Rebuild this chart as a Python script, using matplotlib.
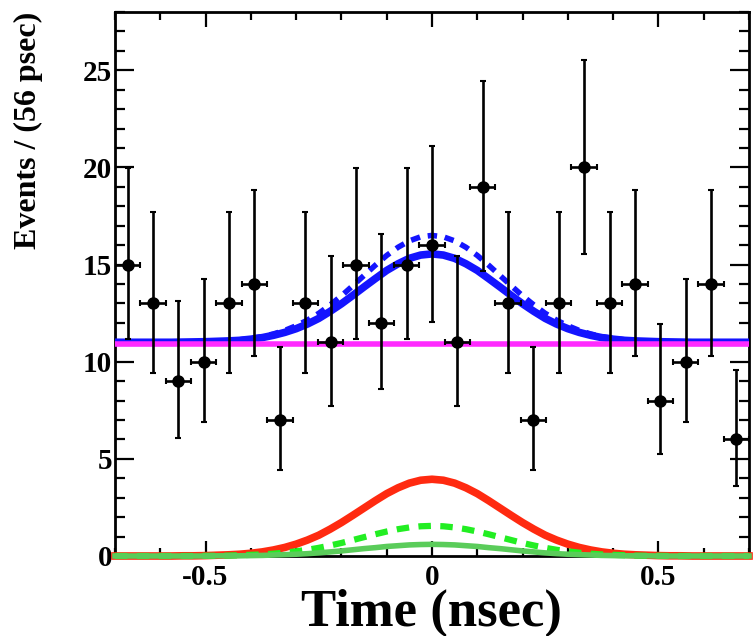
import matplotlib
matplotlib.use('Agg')
import matplotlib.pyplot as plt
from matplotlib.ticker import MultipleLocator, FixedLocator

plt.rcParams['font.family'] = ['Liberation Serif', 'DejaVu Serif']
plt.rcParams['axes.unicode_minus'] = False

# data points: bin centres (56 psec bins), counts and Poisson error band
t_bins = [-0.672, -0.616, -0.560, -0.504, -0.448, -0.392, -0.336, -0.280, -0.224,
          -0.168, -0.112, -0.056, 0.000, 0.056, 0.112, 0.168, 0.224, 0.280,
          0.336, 0.392, 0.448, 0.504, 0.560, 0.616, 0.672]
counts = [15, 13, 9, 10, 13, 14, 7, 13, 11, 15, 12, 15, 16, 11, 19, 13, 7, 13,
          20, 13, 14, 8, 10, 14, 6]
err_lo = [11.17, 9.44, 6.06, 6.89, 9.44, 10.30, 4.42, 9.44, 7.73, 11.17, 8.58, 11.17,
          12.04, 7.73, 14.68, 9.44, 4.42, 9.44, 15.57, 9.44, 10.30, 5.23, 6.89, 10.30, 3.62]
err_hi = [19.96, 17.70, 13.11, 14.27, 17.70, 18.83, 10.77, 17.70, 15.42, 19.96, 16.56, 19.96,
          21.08, 15.42, 24.44, 17.70, 10.77, 17.70, 25.54, 17.70, 18.83, 11.95, 14.27, 18.83, 9.58]
half_bin = 0.028

# fit curves, every 25 psec
t_curve = [-0.700, -0.675, -0.650, -0.625, -0.600, -0.575, -0.550, -0.525, -0.500, -0.475,
           -0.450, -0.425, -0.400, -0.375, -0.350, -0.325, -0.300, -0.275, -0.250, -0.225,
           -0.200, -0.175, -0.150, -0.125, -0.100, -0.075, -0.050, -0.025, 0.000, 0.025,
           0.050, 0.075, 0.100, 0.125, 0.150, 0.175, 0.200, 0.225, 0.250, 0.275,
           0.300, 0.325, 0.350, 0.375, 0.400, 0.425, 0.450, 0.475, 0.500, 0.525,
           0.550, 0.575, 0.600, 0.625, 0.650, 0.675, 0.700]
total_solid = [11.00, 11.00, 11.00, 11.00, 11.00, 11.00, 11.01, 11.02, 11.03, 11.05,
               11.07, 11.10, 11.16, 11.24, 11.36, 11.51, 11.70, 11.94, 12.23, 12.59,
               12.98, 13.41, 13.85, 14.28, 14.70, 15.04, 15.32, 15.49, 15.55, 15.49,
               15.32, 15.04, 14.70, 14.28, 13.85, 13.41, 12.98, 12.59, 12.23, 11.94,
               11.70, 11.51, 11.36, 11.24, 11.16, 11.10, 11.07, 11.05, 11.03, 11.02,
               11.01, 11.00, 11.00, 11.00, 11.00, 11.00, 11.00]
total_dashed = [11.00, 11.00, 11.00, 11.00, 11.00, 11.00, 11.01, 11.02, 11.03, 11.05,
                11.08, 11.13, 11.20, 11.29, 11.43, 11.61, 11.85, 12.14, 12.49, 12.92,
                13.39, 13.91, 14.44, 14.97, 15.47, 15.89, 16.22, 16.43, 16.50, 16.43,
                16.22, 15.89, 15.47, 14.97, 14.44, 13.91, 13.39, 12.92, 12.49, 12.14,
                11.85, 11.61, 11.43, 11.29, 11.20, 11.13, 11.08, 11.05, 11.03, 11.02,
                11.01, 11.00, 11.00, 11.00, 11.00, 11.00, 11.00]
signal = [0.00, 0.00, 0.00, 0.00, 0.00, 0.00, 0.01, 0.01, 0.02, 0.04,
          0.06, 0.09, 0.14, 0.21, 0.31, 0.44, 0.61, 0.82, 1.07, 1.38,
          1.72, 2.09, 2.47, 2.85, 3.21, 3.51, 3.75, 3.90, 3.95, 3.90,
          3.75, 3.51, 3.21, 2.85, 2.47, 2.09, 1.72, 1.38, 1.07, 0.82,
          0.61, 0.44, 0.31, 0.21, 0.14, 0.09, 0.06, 0.04, 0.02, 0.01,
          0.01, 0.00, 0.00, 0.00, 0.00, 0.00, 0.00]
peaking_dashed = [0.00, 0.00, 0.00, 0.00, 0.00, 0.00, 0.00, 0.00, 0.01, 0.01,
                  0.02, 0.04, 0.06, 0.08, 0.12, 0.17, 0.24, 0.32, 0.42, 0.54,
                  0.67, 0.82, 0.97, 1.12, 1.26, 1.38, 1.47, 1.53, 1.55, 1.53,
                  1.47, 1.38, 1.26, 1.12, 0.97, 0.82, 0.67, 0.54, 0.42, 0.32,
                  0.24, 0.17, 0.12, 0.08, 0.06, 0.04, 0.02, 0.01, 0.01, 0.00,
                  0.00, 0.00, 0.00, 0.00, 0.00, 0.00, 0.00]
peaking_solid = [0.00, 0.00, 0.00, 0.00, 0.00, 0.00, 0.00, 0.00, 0.00, 0.01,
                 0.01, 0.01, 0.02, 0.03, 0.05, 0.07, 0.09, 0.12, 0.16, 0.21,
                 0.26, 0.32, 0.38, 0.43, 0.49, 0.53, 0.57, 0.59, 0.60, 0.59,
                 0.57, 0.53, 0.49, 0.43, 0.38, 0.32, 0.26, 0.21, 0.16, 0.12,
                 0.09, 0.07, 0.05, 0.03, 0.02, 0.01, 0.01, 0.01, 0.00, 0.00,
                 0.00, 0.00, 0.00, 0.00, 0.00, 0.00, 0.00]
bkg_level = 10.93

fig = plt.figure(figsize=(7.53, 6.36), dpi=100)
ax = fig.add_axes([0.1527, 0.1258, 0.842, 0.8553])

ax.plot(t_curve, total_solid, color='#1414ff', lw=5.5, zorder=3)
ax.plot(t_curve, total_dashed, color='#1414ff', lw=4, ls=(0, (1.7, 1.4)), zorder=3.1)
ax.axhline(bkg_level, color='#ff2bff', lw=4, zorder=3.2)
ax.plot(t_curve, signal, color='#ff2a10', lw=5.5, zorder=3.3, clip_on=False)
ax.plot(t_curve, peaking_dashed, color='#22ee22', lw=4.5, ls=(0, (2, 1.5)), zorder=3.4,
        clip_on=False)
ax.plot(t_curve, peaking_solid, color='#5acc5a', lw=4, zorder=3.5, clip_on=False)

yerr = [[c - lo for c, lo in zip(counts, err_lo)],
        [hi - c for c, hi in zip(counts, err_hi)]]
ax.errorbar(t_bins, counts, xerr=half_bin, yerr=yerr, fmt='o', color='black',
            ms=8, elinewidth=1.9, capsize=2.2, capthick=1.5, zorder=5)

ax.set_xlim(-0.7, 0.7)
ax.set_ylim(0, 28)

ax.xaxis.set_major_locator(FixedLocator([-0.5, 0.0, 0.5]))
ax.xaxis.set_minor_locator(MultipleLocator(0.1))
ax.set_xticklabels(['-0.5', '0', '0.5'])
ax.yaxis.set_major_locator(MultipleLocator(5))
ax.yaxis.set_minor_locator(MultipleLocator(1))

ax.tick_params(axis='both', which='both', direction='in', top=True, right=True,
               width=1.6, labelsize=21)
ax.tick_params(axis='x', which='major', length=11, pad=6)
ax.tick_params(axis='x', which='minor', length=5.5)
ax.tick_params(axis='y', which='major', length=14, pad=2)
ax.tick_params(axis='y', which='minor', length=7)
for lab in ax.get_xticklabels() + ax.get_yticklabels():
    lab.set_fontweight('bold')

for sp in ax.spines.values():
    sp.set_linewidth(2)

ax.set_xlabel('Time (nsec)', fontsize=38, fontweight='bold')
ax.xaxis.set_label_coords(0.5, -0.06)
ax.set_ylabel('Events / (56 psec)', fontsize=23, fontweight='bold', loc='top')
ax.yaxis.set_label_coords(-0.113, 1.0)

fig.savefig('out.png', dpi=100)
